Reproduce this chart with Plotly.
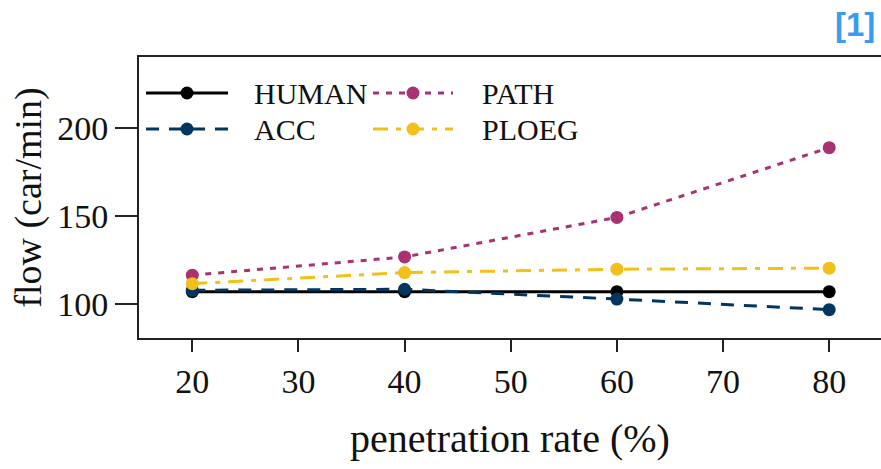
import plotly.graph_objects as go

rates = [20, 40, 60, 80]
human = [107.0, 107.0, 107.0, 107.0]
acc = [107.8, 108.4, 102.8, 96.8]
path = [116.4, 126.8, 149.3, 189.0]
ploeg = [111.6, 117.9, 119.8, 120.4]

series_names = ["HUMAN", "ACC", "PATH", "PLOEG"]
series_vals = [human, acc, path, ploeg]
colors = ["#000000", "#003660", "#A83272", "#F2BF1B"]
dashes = ["solid", "13px,10px", "6px,7px", "15px,8px,5px,8px"]

x_ticks = [20, 30, 40, 50, 60, 70, 80]
y_ticks = [100, 150, 200]

FONT = "Liberation Serif"

fig = go.Figure()
for name, vals, c, d in zip(series_names, series_vals, colors, dashes):
    fig.add_trace(go.Scatter(
        x=rates, y=vals, mode="lines+markers", name=name,
        line=dict(color=c, width=3, dash=d),
        marker=dict(color=c, size=13, symbol="circle"),
        showlegend=False, xaxis="x", yaxis="y"))

L, T, B, R = 139, 57, 338, 881

# manual legend (pixel-like auxiliary axes)
leg_pos = {
    "HUMAN": (146, 228, 93, 252),
    "ACC": (146, 228, 129, 252),
    "PATH": (373, 453, 93, 480),
    "PLOEG": (373, 453, 129, 480),
}
annotations = []
for name, c, d in zip(series_names, colors, dashes):
    x0, x1, yy, tx = leg_pos[name]
    fig.add_trace(go.Scatter(
        x=[x0, x1], y=[yy, yy], mode="lines", line=dict(color=c, width=3, dash=d),
        showlegend=False, hoverinfo="skip", xaxis="x2", yaxis="y2"))
    fig.add_trace(go.Scatter(
        x=[(x0 + x1) / 2], y=[yy], mode="markers", marker=dict(color=c, size=13),
        showlegend=False, hoverinfo="skip", xaxis="x2", yaxis="y2"))
    annotations.append(dict(
        x=tx, y=yy, xref="x2", yref="y2", text=name, showarrow=False,
        xanchor="left", yanchor="middle",
        font=dict(family=FONT, size=30, color="#111")))

annotations.append(dict(
    x=(877 - L) / (R - L), y=(B - 25) / (B - T), xref="paper", yref="paper",
    text="<b>[1]</b>", showarrow=False, xanchor="right", yanchor="middle",
    font=dict(family="Liberation Sans", size=33, color="#3C9BF0")))

fig.update_layout(
    width=881, height=469,
    margin=dict(l=L, r=881 - R, t=T, b=469 - B, pad=0),
    plot_bgcolor="white", paper_bgcolor="white",
    showlegend=False,
    annotations=annotations,
    xaxis=dict(
        range=[14.98, 84.88], tickvals=x_ticks, ticktext=[str(v) for v in x_ticks],
        showgrid=False, zeroline=False, showline=True, mirror=True,
        linecolor="#222", linewidth=2, ticks="outside", ticklen=12, tickwidth=1.5,
        tickcolor="#222", tickfont=dict(family=FONT, size=34, color="#111"),
        title=dict(text="penetration rate (%)", font=dict(family=FONT, size=40, color="#111"),
                   standoff=25),
    ),
    yaxis=dict(
        range=[80.65, 240.6], tickvals=y_ticks, ticktext=[str(v) for v in y_ticks],
        showgrid=False, zeroline=False, showline=True, mirror=False,
        linecolor="#222", linewidth=2, ticks="outside", ticklen=22, tickwidth=1.5,
        tickcolor="#222", tickfont=dict(family=FONT, size=34, color="#111"),
        title=dict(text="flow (car/min)", font=dict(family=FONT, size=38, color="#111"),
                   standoff=4),
    ),
    xaxis2=dict(range=[L, R], overlaying="x", anchor="y2", visible=False, fixedrange=True),
    yaxis2=dict(range=[B, T], overlaying="y", anchor="x2", visible=False, fixedrange=True),
)

fig.write_html("out.html")
